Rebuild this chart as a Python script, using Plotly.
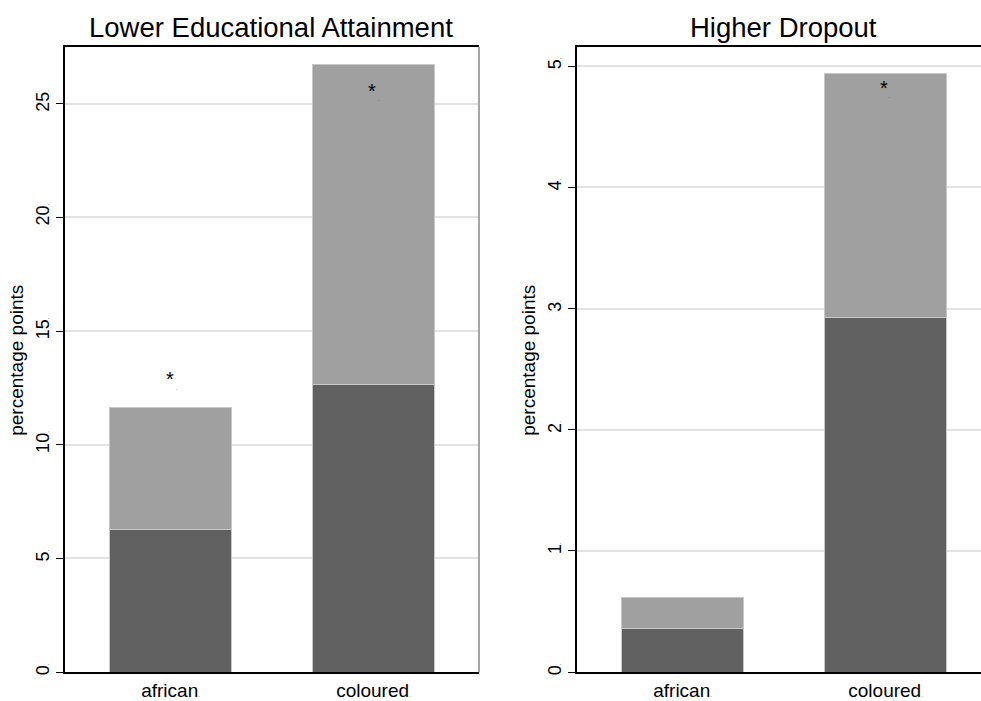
import plotly.graph_objects as go

categories = ["african", "coloured"]
# Lower Educational Attainment
edu_dark = [6.27, 12.63]
edu_total = [11.62, 26.70]
edu_light = [t - d for t, d in zip(edu_total, edu_dark)]
edu_star_cat = ["african", "coloured"]
edu_star_y = [12.9, 25.55]
edu_dot_y = [12.26, 25.0]
edu_ticks = [0, 5, 10, 15, 20, 25]
# Higher Dropout
drop_dark = [0.364, 2.93]
drop_total = [0.614, 4.936]
drop_light = [t - d for t, d in zip(drop_total, drop_dark)]
drop_star_cat = ["coloured"]
drop_star_y = [4.82]
drop_dot_y = [4.71]
drop_ticks = [0, 1, 2, 3, 4, 5]

DARK = "#606060"
LIGHT = "#a0a0a0"
FONT = "Liberation Sans, Arial, sans-serif"
W, H = 981, 701
dot = "<span style='font-size:6px'>.</span>"

fig = go.Figure()
for xa, ya, dark, light in [("x", "y", edu_dark, edu_light), ("x2", "y2", drop_dark, drop_light)]:
    fig.add_trace(go.Bar(x=categories, y=dark, marker=dict(color=DARK, line=dict(color="#c8c8c8", width=1)),
                         width=0.6, xaxis=xa, yaxis=ya, showlegend=False, hoverinfo="skip"))
    fig.add_trace(go.Bar(x=categories, y=light, marker=dict(color=LIGHT, line=dict(color="#c8c8c8", width=1)),
                         width=0.6, xaxis=xa, yaxis=ya, showlegend=False, hoverinfo="skip"))

ann = []
for xr, yr, cats, stars, dots, sx, dx in [("x", "y", edu_star_cat, edu_star_y, edu_dot_y, -1, 6),
                                          ("x2", "y2", drop_star_cat, drop_star_y, drop_dot_y, -2, 3)]:
    for c, v, d in zip(cats, stars, dots):
        ann.append(dict(x=c, y=v, xref=xr, yref=yr, text="*", showarrow=False, xshift=sx,
                        xanchor="center", yanchor="middle",
                        font=dict(size=20, color="black", family=FONT)))
        ann.append(dict(x=c, y=d, xref=xr, yref=yr, text=".", showarrow=False, xshift=dx,
                        xanchor="center", yanchor="bottom",
                        font=dict(size=6, color="#444", family=FONT)))
ann.append(dict(x=272 / W, y=1 - 28 / H, xref="paper", yref="paper", text="Lower Educational Attainment" + dot,
                xanchor="center", yanchor="middle",
                showarrow=False, font=dict(size=27.5, color="black", family=FONT)))
ann.append(dict(x=784 / W, y=1 - 28 / H, xref="paper", yref="paper", text="Higher Dropout" + dot,
                xanchor="center", yanchor="middle",
                showarrow=False, font=dict(size=27.5, color="black", family=FONT)))

ydom = [(H - 676) / H, (H - 47) / H]
xcommon = dict(type="category", tickvals=categories, ticktext=[c + dot for c in categories],
               showline=True, linecolor="black", linewidth=1.5, ticks="", showgrid=False,
               tickfont=dict(size=19, color="black", family=FONT), zeroline=False)
ycommon = dict(showline=True, linecolor="black", linewidth=1.5, ticks="outside", ticklen=7,
               tickcolor="black", tickangle=-90, showgrid=True, gridcolor="#e3e3e3", gridwidth=1.5,
               tickfont=dict(size=18, color="black", family=FONT), zeroline=False,
               title=dict(text="percentage points" + dot, font=dict(size=19, color="black", family=FONT),
                          standoff=4))

fig.update_layout(
    width=W, height=H, margin=dict(l=0, r=0, t=0, b=0),
    paper_bgcolor="white", plot_bgcolor="white", barmode="stack", annotations=ann,
    xaxis=dict(domain=[65 / W, 479 / W], range=[-0.52, 1.52], anchor="y", mirror=True, **xcommon),
    xaxis2=dict(domain=[577 / W, 1.0], range=[-0.52, 1.47], anchor="y2", mirror=True, **xcommon),
    yaxis=dict(domain=ydom, range=[0, 27.5], anchor="x", tickvals=edu_ticks,
               ticktext=[str(t) + dot for t in edu_ticks], **ycommon),
    yaxis2=dict(domain=ydom, range=[0, 5.16], anchor="x2", tickvals=drop_ticks,
                ticktext=[str(t) + dot for t in drop_ticks], **ycommon),
    shapes=[dict(type="line", xref="paper", yref="paper", x0=479 / W, x1=479 / W, y0=ydom[0], y1=ydom[1],
                 line=dict(color="#888888", width=1.5))],
)
fig.write_html("out.html", config={"displayModeBar": False},
               post_script="document.body.style.margin='0';document.body.style.overflow='hidden';")
